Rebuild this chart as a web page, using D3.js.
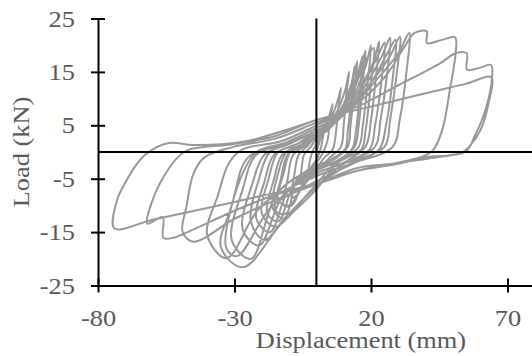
<!DOCTYPE html>
<html>
<head>
<meta charset="utf-8">
<script src="https://cdn.jsdelivr.net/npm/d3@7"></script>
<style>
  body { margin: 0; background: #fff; }
  text { font-family: "Liberation Serif", "Times New Roman", serif; fill: #595959; }
</style>
</head>
<body>
<div id="chart"></div>
<script>
// Tick values
const xTicks = [-80, -30, 20, 70];
const yTicks = [-25, -15, -5, 5, 15, 25];

// Displacement (mm) and load (kN) record, one cycle per line
const displacement = [
  0, 1.5, 3, 2.5, 1.5, 0, -1.5, -3, -2.5, -1.5, 0,
  2, 4.5, 6, 5, 4, 2, 0, -3, -6, -5.5, -4.5, -2, 0,
  3, 6, 8, 9, 8, 7, 6, 3, 0, -4, -7, -9, -8, -6.5, -3.5, 0,
  4, 8, 10.5, 12, 11, 10, 9, 5, 0, -5, -9, -12, -10.5, -8.5, -4, 0,
  5, 10, 13, 15, 14, 12.5, 11.5, 6, 0, -7, -11, -15, -13, -10.5, -5, 0,
  4, 9, 12.5, 14, 13, 11.5, 10.5, 5, 0, -5, -10, -14, -12, -9.5, -4.5, 0,
  6, 12, 16, 18, 17, 15.5, 14, 8, 0, -8, -14, -18, -15.5, -12.5, -6, 0,
  5, 11, 15, 17, 16, 14.5, 13, 7, 0, -6, -12, -16, -14, -11, -5, 0,
  7, 14, 18, 20, 19, 17, 15.5, 9, 0, -10, -17, -22, -19, -15.5, -8, 0,
  6, 13, 18, 21, 20, 18, 16.5, 8, 0, -8, -15, -20, -17.5, -14, -7, 0,
  8, 16, 21, 23, 22, 20, 18, 10, 0, -12, -21, -27, -23.5, -19, -10, 0,
  8, 17, 22.5, 25, 24, 21.5, 19.5, 9, 0, -11, -19, -24, -21, -17, -8, 0,
  9, 18, 24, 27, 26, 23.5, 21.5, 11, 0, -14, -24, -31, -27, -22, -11, 0,
  10, 20, 26, 29, 28, 25.5, 23, 12, 0, -16, -29, -33, -30, -25, -12, 0,
  10, 20, 27, 30.6, 29.5, 27, 25, 13, 0, -13, -27, -35, -31.6, -27, -22, -11, 0,
  11, 22, 30, 34, 33, 30.5, 28, 14, 0, -20, -33, -40, -36, -32, -27, -13, 0,
  12, 25, 32, 36, 40.4, 40.5, 46, 50.8, 51, 49, 46, 42, 30, 15, 0, -15, -30, -45, -49, -47.5, -45, -41, -30, -15, 0,
  15, 30, 45, 51, 55, 55.2, 60, 64, 64.3, 62, 58, 54.5, 40, 30, 15, 0, -15, -30, -45, -52, -56, -56.3, -62, -60, -56, -51, -47, -30, -15, 0,
  20, 40, 55, 64, 63, 60, 56, 53.7, 40, 30, 15, 0, -20, -40, -60, -74, -73, -69.5, -66, -62, -54, -45, -27, -14.4, 0
];
const load = [
  0, 2.5, 5, 3, 0.5, -1.5, -2.5, -4, -2, 0, 1.5,
  3.5, 6.5, 9, 6, 2, -0.5, -2, -3.5, -6, -3.5, -0.5, 1, 2.5,
  4, 7, 10, 12, 8, 3, 0.5, -1, -3, -5, -8, -8.5, -4, -0.5, 1, 3,
  4.5, 8, 11.5, 15, 11, 5, 1, -1, -3.5, -6, -10, -10, -5, -0.5, 1.2, 3,
  4.5, 9, 13, 17, 12, 5, 1, -1.5, -2.5, -5, -11.5, -11, -5, -0.5, 1.2, 3,
  4, 8, 12, 16, 11, 4, 0.5, -1.5, -3.5, -6.5, -10, -9, -4, 0, 1.5, 3,
  5, 10, 15, 19, 13, 5, 1, -1.5, -3, -6, -13, -11.5, -5, -0.5, 1.3, 3.5,
  5, 9.5, 14.5, 18, 12, 4, 0.5, -2, -6, -9.5, -12.5, -10.5, -4, 0, 1.5, 3.5,
  5.5, 11, 16, 20, 14, 5, 1, -1.5, -3.5, -7, -15, -12.5, -5.5, -0.5, 1.3, 3.5,
  5.5, 11, 17, 19.5, 13, 4, 0.5, -2, -7, -11, -14, -11.5, -5, 0, 1.5, 4,
  6, 12, 17, 20.7, 15, 6, 1, -2, -4, -8, -17.5, -14.5, -6, -0.5, 1.5, 4,
  6.5, 12.5, 18, 20.5, 14, 5, 0.5, -2.5, -6.5, -12, -16.5, -13, -5, 0, 2, 4,
  6.5, 12.5, 18, 21.4, 15, 6, 1, -2, -3, -7.5, -20, -16.5, -7, -0.5, 1.5, 4,
  7, 13, 18.5, 21, 14, 5, 0.5, -2.5, -5.5, -10, -19.5, -18, -8, -1, 1.5, 4.5,
  7, 13, 18, 21.6, 15, 6, 1, -2, -6.5, -13.5, -21.6, -17.8, -10.9, -4, 0, 1.8, 4.5,
  7.5, 13.5, 18.5, 22.3, 15, 6, 1, -2, -4.5, -10, -19.9, -15.5, -8, -2, 0.5, 2, 5,
  8, 14, 19.5, 22.3, 22.6, 20.4, 21, 21.5, 18.5, 12, 4, 0, -2, -3, -6, -9, -12.5, -16.8, -15, -10, -4, -1, 1, 2.5, 5.5,
  8.5, 12.5, 16.5, 18.5, 18.5, 15.4, 15.8, 16.3, 13.8, 8, 3, 0, -1, -2.2, -3.5, -6, -8, -11, -14.5, -16, -16.1, -12.2, -13.4, -9, -4.7, -1.1, 0.4, 1.5, 3, 6,
  8.5, 11, 12.8, 14, 9, 4, 1, 0, -1.3, -2, -3.5, -6, -8.2, -10.5, -12.7, -14.3, -9, -5.3, -2.4, -0.2, 1.7, 1.3, 1.9, 3.6, 6
];

const width = 532, height = 356;
const stretch = 1.1; // labels in the original are a little wide

const svg = d3.select("#chart")
  .append("svg")
  .attr("width", width)
  .attr("height", height);

// Scales
const x = d3.scaleLinear().domain([-80, 80]).range([98, 534.8]);
const y = d3.scaleLinear().domain([-25, 25]).range([285.5, 18.5]);

// Hysteresis curve
const points = d3.zip(displacement, load);
svg.append("path")
  .datum(points)
  .attr("fill", "none")
  .attr("stroke", "#999999")
  .attr("stroke-width", 2)
  .attr("stroke-linejoin", "round")
  .attr("d", d3.line()
    .x(d => x(d[0]))
    .y(d => y(d[1]))
    .curve(d3.curveCatmullRom.alpha(0.5)));

// Zero lines
svg.append("line")
  .attr("x1", x(0)).attr("x2", x(0))
  .attr("y1", y(25)).attr("y2", y(-25))
  .attr("stroke", "#000").attr("stroke-width", 2);
svg.append("line")
  .attr("x1", x(-80)).attr("x2", width)
  .attr("y1", y(0)).attr("y2", y(0))
  .attr("stroke", "#000").attr("stroke-width", 2);

// Y axis (ticks cross the line)
const yAxis = svg.append("g")
  .attr("transform", `translate(${x(-80)},0)`)
  .call(d3.axisLeft(y).tickValues(yTicks).tickFormat(d => String(d)).tickSize(7).tickSizeOuter(0));
yAxis.select(".domain").attr("stroke-width", 2);
yAxis.selectAll(".tick line").attr("x2", 7).attr("x1", -7).attr("stroke-width", 2);
yAxis.selectAll(".tick text")
  .attr("x", -23 / stretch)
  .attr("transform", `scale(${stretch},1)`)
  .style("font-size", "24px")
  .style("font-family", "'Liberation Serif', serif")
  .attr("fill", "#595959");

// X axis
const xAxis = svg.append("g")
  .attr("transform", `translate(0,${y(-25)})`)
  .call(d3.axisBottom(x).tickValues(xTicks).tickFormat(d => String(d)).tickSize(7).tickSizeOuter(0));
xAxis.select(".domain").attr("stroke-width", 2);
xAxis.selectAll(".tick line").attr("y1", -7).attr("y2", 7).attr("stroke-width", 2);
xAxis.selectAll(".tick text")
  .attr("y", 23)
  .attr("dy", "0.71em")
  .attr("transform", `scale(${stretch},1)`)
  .style("font-size", "24px")
  .style("font-family", "'Liberation Serif', serif")
  .attr("fill", "#595959");

// Axis titles
svg.append("text")
  .attr("transform", `translate(361,348) scale(${stretch},1)`)
  .attr("text-anchor", "middle")
  .style("font-size", "24px")
  .text("Displacement (mm)");

svg.append("text")
  .attr("transform", `translate(29,${y(0)}) rotate(-90) scale(${stretch},1)`)
  .attr("text-anchor", "middle")
  .style("font-size", "24px")
  .text("Load (kN)");
</script>
</body>
</html>
